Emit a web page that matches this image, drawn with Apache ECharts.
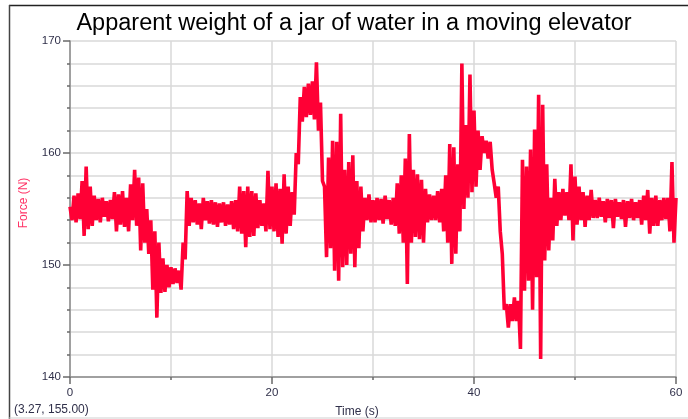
<!DOCTYPE html>
<html>
<head>
<meta charset="utf-8">
<script src="https://cdn.jsdelivr.net/npm/echarts@6/dist/echarts.min.js"></script>
<style>
  html, body { margin: 0; padding: 0; background: #fff; }
  #main { width: 688px; height: 419px; }
</style>
</head>
<body>
<div id="main"></div>
<script>
var myChart = echarts.init(document.getElementById('main'));

// sample step of the logger, seconds
var step = 0.2;

// force readings (N), one per step from t = 0 s
var force = [
  155.2, 154.0, 156.2, 153.8, 156.4, 154.1, 157.5, 152.6, 158.8, 153.2,
  157.0, 153.5, 156.2, 154.0, 155.9, 153.8, 156.0, 154.3, 155.7, 153.9,
  155.8, 154.1, 156.5, 153.0, 156.3, 153.6, 156.6, 153.4, 156.0, 153.0,
  157.2, 154.0, 158.5, 153.5, 157.8, 151.3, 157.3, 152.0, 155.0, 151.0,
  154.0, 147.8, 153.0, 145.3, 152.0, 147.5, 150.6, 147.6, 150.0, 148.0,
  149.8, 148.3, 149.7, 148.4, 149.5, 147.8, 152.0, 150.5, 156.6, 153.5,
  156.0, 153.8, 155.8, 153.6, 155.5, 153.2, 156.0, 154.0, 155.7, 153.7,
  155.8, 153.6, 155.6, 153.4, 155.5, 153.8, 155.6, 153.5, 155.4, 153.6,
  155.7, 153.2, 155.8, 153.0, 157.0, 152.8, 156.6, 151.6, 157.0, 152.5,
  156.6, 152.6, 156.4, 153.3, 155.8, 153.5, 155.5, 153.0, 158.4, 153.2,
  157.0, 153.0, 157.3, 152.5, 156.8, 151.9, 158.1, 152.8, 157.0, 153.5,
  156.5, 154.5, 160.0, 159.0, 165.0, 162.8, 165.9, 163.2, 166.2, 163.4,
  166.4, 163.0, 168.1, 162.0, 164.5, 157.5, 157.0, 150.7, 159.6, 151.5,
  161.1, 149.5, 161.0, 148.6, 163.5, 149.8, 158.5, 150.0, 159.2, 151.0,
  159.8, 149.8, 157.5, 151.5, 157.0, 153.0, 156.0, 154.0, 156.3, 153.8,
  155.8, 153.8, 156.0, 154.0, 155.9, 153.7, 156.2, 154.1, 155.8, 153.6,
  156.0, 153.5, 157.3, 152.8, 158.0, 152.0, 159.5, 148.3, 161.7, 152.0,
  158.5, 152.5, 158.1, 152.3, 157.6, 152.0, 156.8, 153.8, 156.3, 154.0,
  156.2, 154.0, 156.6, 153.8, 156.8, 153.0, 158.0, 152.0, 160.8, 150.1,
  160.5, 151.0, 159.0, 153.0, 168.0, 155.0, 162.5, 156.0, 167.0, 156.5,
  163.8, 157.0, 162.0, 158.5, 161.5, 160.0, 161.1, 159.5, 161.0, 158.5,
  157.3, 156.0, 157.0, 153.0, 151.0, 146.0, 146.5, 144.4, 146.5, 145.0,
  147.1, 145.0, 146.8, 142.5, 159.4, 147.7, 158.8, 148.6, 160.3, 146.0,
  162.1, 148.9, 165.2, 141.6, 164.3, 150.4, 159.0, 151.3, 156.0, 152.2,
  157.7, 153.5, 156.5, 154.0, 156.8, 154.4, 156.5, 154.0, 159.0, 152.2,
  157.9, 153.6, 157.0, 154.0, 156.5, 153.4, 156.2, 154.0, 156.7, 154.2,
  155.8, 154.2, 156.0, 154.3, 155.7, 153.8, 155.9, 154.2, 155.8, 153.3,
  155.9, 154.3, 155.6, 154.1, 155.8, 153.4, 155.7, 154.2, 155.9, 154.0,
  155.6, 154.2, 155.8, 153.6, 156.2, 154.0, 156.7, 152.8, 156.0, 153.5,
  156.2, 153.5, 155.8, 154.0, 156.0, 154.1, 156.0, 153.0, 159.2, 152.0,
  156.0
];

var seriesData = [];
for (var i = 0; i < force.length; i++) {
    seriesData.push([+(i * step).toFixed(1), force[i]]);
}

var labelColor = '#30304a';
var gridColor = '#d9d9d9';

var option = {
    backgroundColor: '#fff',
    animation: false,
    title: {
        text: 'Apparent weight of a jar of water in a moving elevator',
        left: 349,
        textAlign: 'center',
        top: 7,
        textStyle: {
            fontFamily: 'Liberation Sans, Arial',
            fontSize: 23.5,
            fontWeight: 'normal',
            color: '#000'
        }
    },
    grid: {
        left: 70,
        right: 12,
        top: 41,
        bottom: 42
    },
    xAxis: {
        type: 'value',
        min: 0,
        max: 60,
        interval: 20,
        axisLine: { lineStyle: { color: '#8a8a8a', width: 1.5 } },
        axisTick: { length: 7, lineStyle: { color: '#6a6a6a', width: 1.5 } },
        minorTick: { show: true, splitNumber: 2, length: 3, lineStyle: { color: '#6a6a6a', width: 1.5 } },
        splitLine: { show: true, lineStyle: { color: gridColor, width: 1.5 } },
        minorSplitLine: { show: true, lineStyle: { color: gridColor, width: 1.5 } },
        axisLabel: {
            margin: 10,
            color: labelColor,
            fontFamily: 'Liberation Sans, Arial',
            fontSize: 11.5
        }
    },
    yAxis: {
        type: 'value',
        min: 140,
        max: 170,
        interval: 10,
        axisLine: { show: true, lineStyle: { color: '#8a8a8a', width: 1.5 } },
        axisTick: { show: true, length: 7, lineStyle: { color: '#6a6a6a', width: 1.5 } },
        minorTick: { show: true, splitNumber: 5, length: 3, lineStyle: { color: '#6a6a6a', width: 1.5 } },
        splitLine: { show: true, lineStyle: { color: gridColor, width: 1.5 } },
        minorSplitLine: { show: true, lineStyle: { color: gridColor, width: 1.5 } },
        axisLabel: {
            margin: 9,
            color: labelColor,
            fontFamily: 'Liberation Sans, Arial',
            fontSize: 11.5
        }
    },
    graphic: [
        // frame round the picture
        { type: 'line', shape: { x1: 9, y1: 5.5, x2: 688, y2: 5.5 }, style: { stroke: '#222', lineWidth: 1.5 } },
        { type: 'line', shape: { x1: 9.5, y1: 5, x2: 9.5, y2: 419 }, style: { stroke: '#444', lineWidth: 1.5 } },
        { type: 'line', shape: { x1: 9, y1: 418, x2: 688, y2: 418 }, style: { stroke: '#cfcfcf', lineWidth: 1 } },
        {
            type: 'text',
            x: 24,
            y: 203,
            rotation: Math.PI / 2,
            style: {
                text: 'Force (N)',
                fill: '#ff3366',
                font: '12px "Liberation Sans", Arial',
                textAlign: 'center',
                textVerticalAlign: 'middle'
            }
        },
        {
            type: 'text',
            x: 357,
            y: 412,
            style: {
                text: 'Time (s)',
                fill: labelColor,
                font: '12px "Liberation Sans", Arial',
                textAlign: 'center',
                textVerticalAlign: 'middle'
            }
        },
        {
            type: 'text',
            x: 14,
            y: 410,
            style: {
                text: '(3.27, 155.00)',
                fill: labelColor,
                font: '12px "Liberation Sans", Arial',
                textAlign: 'left',
                textVerticalAlign: 'middle'
            }
        }
    ],
    series: [{
        name: 'Force',
        type: 'line',
        data: seriesData,
        showSymbol: false,
        symbol: 'none',
        lineStyle: {
            color: '#ff0035',
            width: 3.6,
            join: 'bevel'
        }
    }]
};

myChart.setOption(option);
</script>
</body>
</html>
